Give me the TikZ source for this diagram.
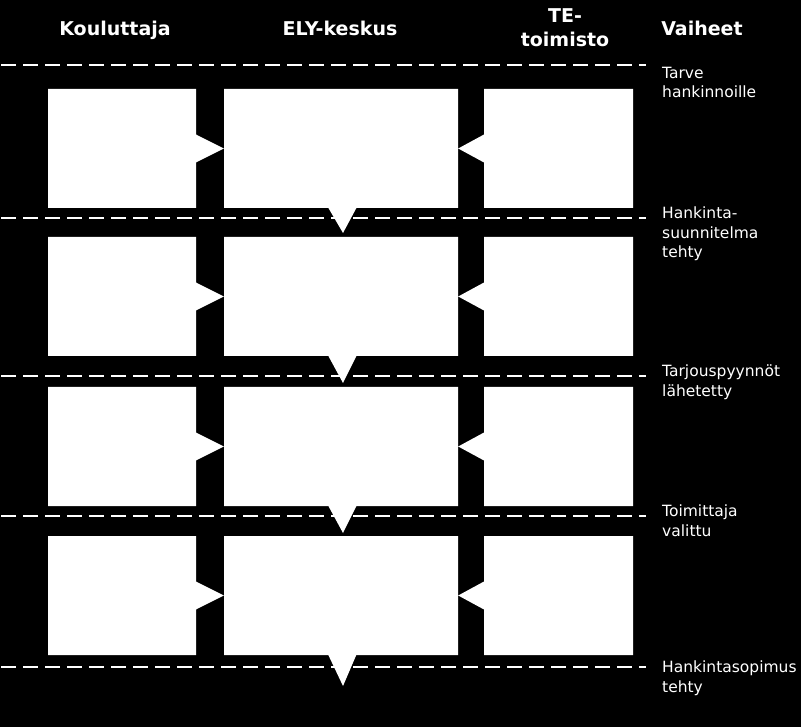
\documentclass[tikz,border=0pt]{standalone}
\usepackage{fontspec}
\setmainfont{DejaVu Sans}
\usetikzlibrary{shapes.callouts}
\begin{document}
\begin{tikzpicture}[x=1pt,y=1pt,
    box/.style={rectangle callout,fill=white,inner sep=0pt,minimum height=119pt,callout pointer width=28pt},
    kbox/.style={box,minimum width=148pt},
    ebox/.style={box,minimum width=234pt},
    tbox/.style={box,minimum width=149pt},
    head/.style={white,font=\bfseries\fontsize{19}{24}\selectfont,align=center,anchor=base},
    phase/.style={white,font=\fontsize{15.5}{19.5}\selectfont,align=left,anchor=base west,inner sep=0pt},
    sep/.style={white,line width=2pt,dash pattern=on 15pt off 7pt}]
  \fill[black] (0,0) rectangle (801,-727);
  \useasboundingbox (0,0) rectangle (801,-727);
  % column heads
  \node[head] (hkou) at (115,-36) {Kouluttaja};
  \node[head] (hely) at (340,-36) {ELY-keskus};
  \node[head] (hte) at (565,-47) {TE-\\toimisto};
  \node[head] (hvai) at (702,-36) {Vaiheet};
  % phase borders
  \foreach \y in {65,218,376,516,667}
    \draw[sep] (1,-\y) -- (646,-\y);
  % rows
  \foreach \n/\y/\t in {1/148.5/233,2/296.5/383,3/446.5/533,4/595.5/686} {
    \node[ebox,callout absolute pointer={(343,-\t)}] (ely\n) at (341,-\y) {};
    \node[kbox,callout absolute pointer={(ely\n.west)}] (kou\n) at (122,-\y) {};
    \node[tbox,callout absolute pointer={(ely\n.east)}] (te\n) at (558.5,-\y) {};
  }
  % phases
  \node[phase] (ph0) at (662,-98) {Tarve\\hankinnoille};
  \node[phase] (ph1) at (662,-258) {Hankinta-\\suunnitelma\\tehty};
  \node[phase] (ph2) at (662,-396) {Tarjouspyynnöt\\lähetetty};
  \node[phase] (ph3) at (662,-536) {Toimittaja\\valittu};
  \node[phase] (ph4) at (662,-692) {Hankintasopimus\\tehty};
\end{tikzpicture}
\end{document}
